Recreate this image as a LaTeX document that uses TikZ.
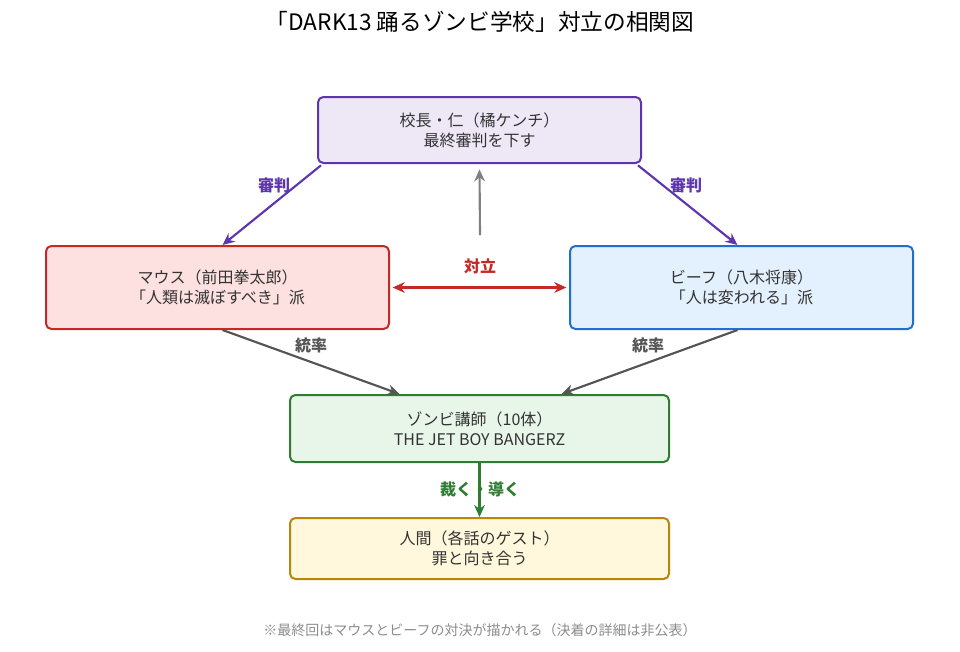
\documentclass[tikz,border=0pt]{standalone}
\usepackage{fontspec}
\setmainfont{Noto Sans CJK JP}
\usetikzlibrary{arrows.meta}
\definecolor{pF}{HTML}{EDE7F6}\definecolor{pD}{HTML}{5E35B1}
\definecolor{rF}{HTML}{FDE0E0}\definecolor{rD}{HTML}{C62828}
\definecolor{bF}{HTML}{E3F0FD}\definecolor{bD}{HTML}{1E6FD0}
\definecolor{gF}{HTML}{E8F5E9}\definecolor{gD}{HTML}{2E7D32}
\definecolor{yF}{HTML}{FFF8DC}\definecolor{yD}{HTML}{B8860B}
\definecolor{dg}{HTML}{555555}
\begin{document}
\begin{tikzpicture}[x=0.75pt,y=-0.75pt,
 box/.style={draw=#1D,fill=#1F,line width=1.5pt,rounded corners=4pt,align=center,font=\fontsize{12}{15}\selectfont,text=black!80},
 arr/.style={line width=1.6pt,-{Stealth[length=9pt,width=8pt]}},
 lab/.style={font=\fontsize{12}{14}\selectfont\bfseries}]
\useasboundingbox (0,0) rectangle (960,651);
\node[font=\fontsize{17}{20}\selectfont] (title) at (480,22) {「DARK13 踊るゾンビ学校」対立の相関図};
\node[box=p,minimum width=323*0.75pt,minimum height=66*0.75pt] (top) at (479.5,130) {校長・仁（橘ケンチ）\\最終審判を下す};
\node[box=r,minimum width=343*0.75pt,minimum height=83*0.75pt] (mouse) at (217.5,287.5) {マウス（前田拳太郎）\\「人類は滅ぼすべき」派};
\node[box=b,minimum width=343*0.75pt,minimum height=83*0.75pt] (beef) at (741.5,287.5) {ビーフ（八木将康）\\「人は変われる」派};
\node[box=g,minimum width=379*0.75pt,minimum height=67*0.75pt] (zombie) at (479.5,428.5) {ゾンビ講師（10体）\\THE JET BOY BANGERZ};
\node[box=y,minimum width=379*0.75pt,minimum height=61*0.75pt] (human) at (479.5,548.5) {人間（各話のゲスト）\\罪と向き合う};
\node[font=\fontsize{10.5}{12}\selectfont,text=black!45] (note) at (480,630) {※最終回はマウスとビーフの対決が描かれる（決着の詳細は非公表）};
\coordinate (gs) at (480,235);
\draw[arr,pD] ([xshift=4*0.75pt,yshift=-1pt]top.south west) -- ([xshift=5*0.75pt]mouse.north);
\node[lab,text=pD] (j1) at (274,185) {審判};
\draw[arr,pD] ([xshift=-4*0.75pt,yshift=-1pt]top.south east) -- ([xshift=-4*0.75pt]beef.north);
\node[lab,text=pD] (j2) at (686,185) {審判};
\draw[arr,gray] (gs) -- ([yshift=-4pt]top.south);
\draw[line width=1.6pt,rD,{Stealth[length=9pt,width=8pt]}-{Stealth[length=9pt,width=8pt]}] ([xshift=2pt]mouse.east) -- ([xshift=-2pt]beef.west);
\node[lab,text=rD] (opp) at (480,266) {対立};
\draw[arr,dg] ([xshift=5*0.75pt]mouse.south) -- ([xshift=-80*0.75pt]zombie.north);
\node[lab,text=dg] (c1) at (311,345) {統率};
\draw[arr,dg] ([xshift=-4*0.75pt]beef.south) -- ([xshift=82*0.75pt]zombie.north);
\node[lab,text=dg] (c2) at (648,345) {統率};
\draw[arr,gD] (zombie.south) -- (human.north);
\node[lab,text=gD] (judge) at (480,489) {裁く・導く};
\end{tikzpicture}
\end{document}
